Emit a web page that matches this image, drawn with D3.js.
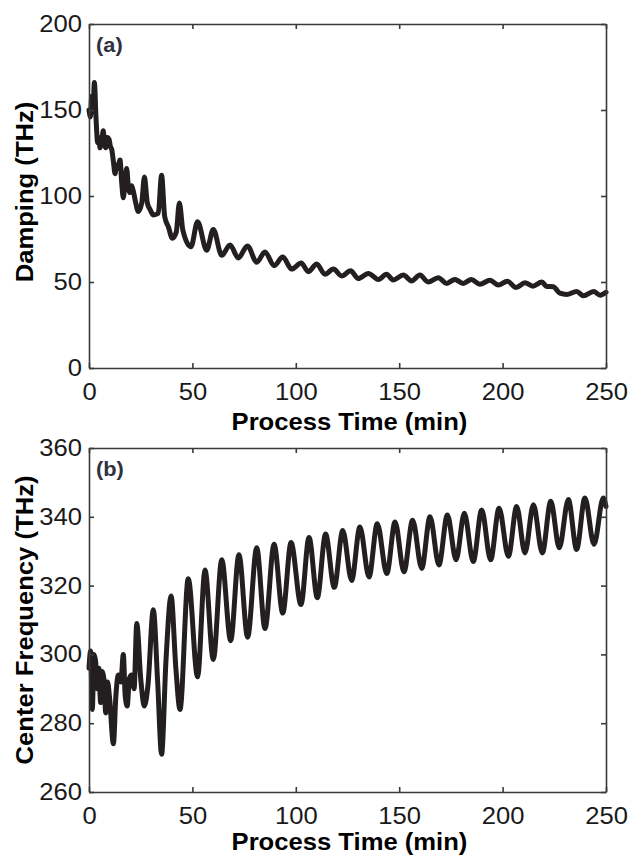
<!DOCTYPE html>
<html>
<head>
<meta charset="utf-8">
<script src="https://cdn.jsdelivr.net/npm/d3@7/dist/d3.min.js"></script>
<style>
  body { margin: 0; background: #fff; }
  text { font-family: "Liberation Sans", Arial, Helvetica, sans-serif; }
</style>
</head>
<body>
<div id="chart"></div>
<script>
// panel (a): damping vs process time
let timeA = [0, 0.7, 1.3, 2, 2.6, 3.4, 4.2, 4.8, 5.3, 6.1, 6.9, 7.5, 8.1, 8.9, 9.7, 10.3, 11, 11.8, 12.6, 13.3,
  14, 15, 15.8, 16.6, 17.4, 18.2, 19, 19.8, 20.6, 21.4, 22.6, 23.8,
  25.5, 26.8, 28.2, 29.6, 31.1, 33.5, 35.1, 36.6, 38.4, 40.3, 42.2, 43.7, 45.4, 49.3, 52.5, 56.9, 60.1, 64.2, 68.2, 72.2,
  76.6, 81.1, 85.1, 89.5, 93.7, 98, 102.6, 106.1, 110.1, 114.1, 118.2, 122.2, 126.5, 130.2, 135.1, 139.9,
  143.9, 147.1, 152, 156, 160, 164, 168.9, 172.9, 176.9, 180.9, 184.9, 189, 193.9, 197.9, 202.3, 206.5,
  210.8, 214.6, 219, 221.3, 224.5, 227.7, 231, 235.8, 239.1, 244, 247.2, 250];
let dampA = [150, 146, 158, 152, 166, 145, 131, 134, 128, 131, 138, 130, 128, 134, 133, 129, 127, 120, 113, 118,
  116, 121, 108, 99, 108, 116, 106, 102, 106, 103, 96, 91,
  96, 111, 96, 92, 89, 90, 112, 88, 82, 75.5, 79, 96, 80, 70.5, 85, 68.5, 80.5, 65.5, 71.5, 64,
  71, 61.5, 67.5, 59.5, 64.5, 57.5, 61, 56, 60.5, 54.5, 57.5, 53.5, 56.5, 52, 55, 51.5,
  54.5, 51.2, 54, 50.6, 54, 50, 52.5, 49.2, 51.5, 49.2, 51.5, 48.7, 51, 48.2, 50.5, 46.8,
  49.5, 47.6, 50, 47.4, 47.3, 43.5, 42.8, 44.5, 42, 44.5, 42.3, 44];

// panel (b): center frequency vs process time
let timeB = [0, 0.8, 1.6, 2.4, 3.2, 4, 4.8, 5.6, 6.4, 7.2, 8.1, 9, 10, 11.8, 13, 14.2, 15.4, 16.6, 17.5,
  18.5, 19.5, 20.6, 21.8, 23.1, 25, 26.8, 28.5, 31.1, 33.2, 35.1, 37.2, 39.7, 42, 44, 48, 52.5, 56.1, 60.1,
  64.2, 68.5, 72.5, 76.7, 81.1, 85.1, 89.5, 93.7, 97.7, 102.5, 106.4, 110.4, 114.4, 118.6, 122.7, 127,
  131, 135.4, 139.4, 144, 148, 152.3, 156.5, 160.9, 164.9, 169.2, 173.3, 177.5, 181.5, 185.8, 189.9,
  194.2, 198.3, 202.8, 206.8, 210.8, 214.9, 219.2, 223.3, 227.4, 231.8, 235.8, 239.8, 244.2, 248.7, 250];
let freqB = [296, 301, 284, 300, 298, 290, 296, 286, 295, 293, 283, 292, 287, 274, 288, 294, 292, 300, 288,
  285, 293, 294, 290, 309, 293, 285, 291, 313, 292, 271, 298, 317, 296, 284, 322, 293.5, 324.5, 298.5,
  327.5, 304, 329, 305, 331, 307.5, 332, 312, 332.5, 314.5, 334, 316.5, 335, 319.5, 336, 321.5,
  337, 322.5, 338, 323.5, 338.5, 324, 339, 325, 340, 326, 340.5, 327.5, 341, 327, 342,
  327.5, 342.5, 328.5, 343, 329.5, 343.5, 329.5, 344.5, 331, 345, 330.5, 345.5, 332, 345.5, 343];

let xTicks = [0, 50, 100, 150, 200, 250];
let dampTicks = [0, 50, 100, 150, 200];
let freqTicks = [260, 280, 300, 320, 340, 360];

let width = 628;
let height = 856;
let left = 89, right = 606;
let stretch = 1.09; // glyphs in the figure are a little wider than Arial

let svg = d3.select('#chart')
  .append('svg')
  .attr('width', width)
  .attr('height', height);

let drawPanel = (p) => {
  let x = d3.scaleLinear().domain([0, 250]).range([left, right]);
  let y = d3.scaleLinear().domain(p.domain).range([p.bottom, p.top]);

  let g = svg.append('g');

  // the data line first, frame on top
  let line = d3.line()
    .x(d => x(d[0]))
    .y(d => y(d[1]))
    .curve(d3.curveMonotoneX);

  g.append('path')
    .datum(d3.zip(p.time, p.values))
    .attr('d', line)
    .attr('fill', 'none')
    .attr('stroke', '#231f20')
    .attr('stroke-width', 5)
    .attr('stroke-linejoin', 'round')
    .attr('stroke-linecap', 'round');

  let axisStyle = (sel) => {
    sel.select('.domain').attr('stroke', '#3a3a3a').attr('stroke-width', 1.6);
    sel.selectAll('.tick line').attr('stroke', '#3a3a3a').attr('stroke-width', 1.6);
    sel.selectAll('.tick text')
      .attr('fill', '#1a1a1a')
      .style('font-size', '23.5px');
  };

  g.append('g')
    .attr('transform', 'translate(0,' + p.bottom + ')')
    .call(d3.axisBottom(x).tickValues(xTicks).tickSizeInner(-5).tickSizeOuter(0).tickPadding(15))
    .call(axisStyle);

  g.append('g')
    .attr('transform', 'translate(0,' + p.top + ')')
    .call(d3.axisTop(x).tickValues(xTicks).tickSizeInner(-5).tickSizeOuter(0).tickFormat(''))
    .call(axisStyle);

  g.append('g')
    .attr('transform', 'translate(' + left + ',0)')
    .call(d3.axisLeft(y).tickValues(p.ticks).tickSizeInner(-5).tickSizeOuter(0).tickPadding(7))
    .call(axisStyle);

  g.append('g')
    .attr('transform', 'translate(' + right + ',0)')
    .call(d3.axisRight(y).tickValues(p.ticks).tickSizeInner(-5).tickSizeOuter(0).tickFormat(''))
    .call(axisStyle);

  g.selectAll('.domain').attr('fill', 'none');
  g.selectAll('g').attr('font-family', null);

  // x label
  g.append('text')
    .attr('x', (left + right) / 2 + 2)
    .attr('y', p.bottom + p.xlabelGap)
    .attr('text-anchor', 'middle')
    .style('font-size', '23.5px')
    .style('font-weight', 'bold')
    .text('Process Time (min)');

  // y label
  g.append('text')
    .attr('transform', 'translate(33,' + p.labelY + ') rotate(-90)')
    .attr('text-anchor', 'middle')
    .style('font-size', '23.5px')
    .style('font-weight', 'bold')
    .text(p.ylabel);

  // panel letter
  g.append('text')
    .attr('x', 96)
    .attr('y', p.top + 28)
    .style('font-size', '20px')
    .style('font-weight', 'bold')
    .attr('fill', '#2e3140')
    .text(p.letter);
};

drawPanel({ time: timeA, values: dampA, domain: [0, 200], ticks: dampTicks,
  top: 24, bottom: 368, xlabelGap: 62, ylabel: 'Damping (THz)', labelY: 192, letter: '(a)' });

drawPanel({ time: timeB, values: freqB, domain: [260, 360], ticks: freqTicks,
  top: 448, bottom: 792, xlabelGap: 58, ylabel: 'Center Frequency (THz)', labelY: 620, letter: '(b)' });

// widen the glyphs a touch, as in the original figure
svg.selectAll('text').each(function () {
  let len = this.getComputedTextLength();
  if (len > 0) {
    d3.select(this)
      .attr('textLength', len * stretch)
      .attr('lengthAdjust', 'spacingAndGlyphs');
  }
});
</script>
</body>
</html>
